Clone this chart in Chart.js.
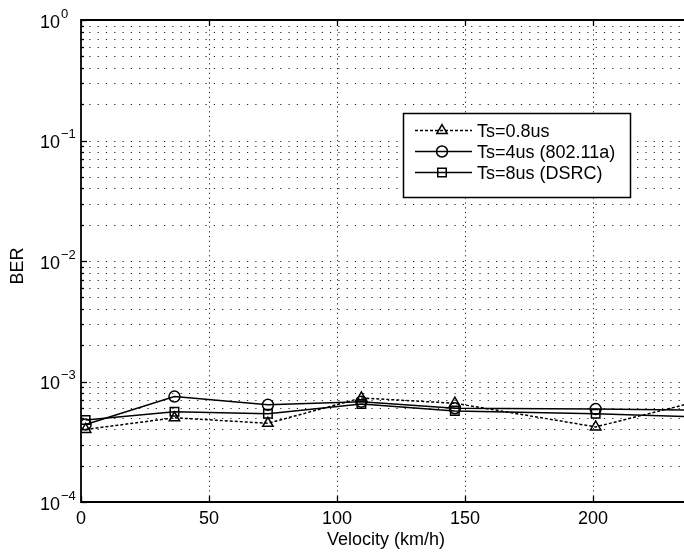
<!DOCTYPE html>
<html>
<head>
<meta charset="utf-8">
<script src="https://cdn.jsdelivr.net/npm/chart.js@4"></script>
<style>
  html, body { margin: 0; padding: 0; background: #fff; }
  #wrap { width: 684px; height: 556px; position: relative; }
</style>
</head>
<body>
<div id="wrap"><canvas id="c" width="684" height="556"></canvas></div>
<script>
// Bit error rate versus vehicle velocity for three OFDM symbol durations
const velocity = [1.8, 36.5, 73, 109.5, 146, 201, 238];
const berTs08 = [4.0e-4, 5.0e-4, 4.5e-4, 7.3e-4, 6.6e-4, 4.2e-4, 6.6e-4];
const berTs4  = [4.4e-4, 7.5e-4, 6.4e-4, 6.8e-4, 6.0e-4, 5.9e-4, 5.8e-4];
const berTs8  = [4.8e-4, 5.6e-4, 5.4e-4, 6.5e-4, 5.7e-4, 5.4e-4, 5.1e-4];
const seriesNames = ['Ts=0.8us', 'Ts=4us (802.11a)', 'Ts=8us (DSRC)'];
const xTicks = [0, 50, 100, 150, 200];
const yDecades = [-4, -3, -2, -1, 0];

const FONT = '"Liberation Sans", Arial, Helvetica, sans-serif';
const LINE_W = 1.5;

function toPoints(ys) {
  return velocity.map((v, i) => ({ x: v, y: ys[i] }));
}

const styles = [
  { pointStyle: 'triangle', radius: 6, dash: [3, 2] },
  { pointStyle: 'circle', radius: 5.5, dash: [] },
  { pointStyle: 'rect', radius: 6, dash: [] }
];

function drawMarker(ctx, style, x, y, r) {
  ctx.beginPath();
  if (style === 'circle') {
    ctx.arc(x, y, r, 0, Math.PI * 2);
  } else if (style === 'rect') {
    const s = r * Math.SQRT1_2;
    ctx.rect(x - s, y - s, 2 * s, 2 * s);
  } else {
    let a = 0;
    ctx.moveTo(x + Math.sin(a) * r, y - Math.cos(a) * r);
    a += 2 * Math.PI / 3;
    ctx.lineTo(x + Math.sin(a) * r, y - Math.cos(a) * r);
    a += 2 * Math.PI / 3;
    ctx.lineTo(x + Math.sin(a) * r, y - Math.cos(a) * r);
    ctx.closePath();
  }
  ctx.stroke();
}

// Dotted grid, drawn beneath the data lines
const gridPlugin = {
  id: 'matlabGrid',
  beforeDatasetsDraw(chart) {
    const { ctx, chartArea: a, scales: { x, y } } = chart;
    ctx.save();
    ctx.strokeStyle = '#222';
    ctx.lineWidth = 1;
    // horizontal lines at every decade and its minor subdivisions
    ctx.setLineDash([1.2, 7.1]);
    yDecades.forEach(d => {
      const mults = d === 0 ? [1] : [1, 2, 3, 4, 5, 6, 7, 8, 9];
      mults.forEach(m => {
        const py = Math.round(y.getPixelForValue(m * Math.pow(10, d))) + 0.5;
        if (py < a.top + 1 || py > a.bottom - 1) return;
        ctx.beginPath();
        ctx.moveTo(a.left, py);
        ctx.lineTo(a.right, py);
        ctx.stroke();
      });
    });
    // vertical lines at the major x ticks
    ctx.setLineDash([1.2, 3.6]);
    xTicks.forEach(t => {
      const px = Math.round(x.getPixelForValue(t)) + 0.5;
      if (px <= a.left + 1) return;
      ctx.beginPath();
      ctx.moveTo(px, a.top);
      ctx.lineTo(px, a.bottom);
      ctx.stroke();
    });
    ctx.restore();
  },
  afterDatasetsDraw(chart) {
    const { ctx, chartArea: a, scales: { x, y } } = chart;
    ctx.save();
    ctx.setLineDash([]);
    ctx.strokeStyle = '#000';
    ctx.lineWidth = 1.8;
    // axes frame (left, bottom, top)
    ctx.beginPath();
    ctx.moveTo(a.right, a.top);
    ctx.lineTo(a.left, a.top);
    ctx.lineTo(a.left, a.bottom);
    ctx.lineTo(a.right, a.bottom);
    ctx.stroke();

    // inward tick marks
    ctx.lineWidth = 1.3;
    xTicks.forEach(t => {
      const px = Math.round(x.getPixelForValue(t)) + 0.5;
      ctx.beginPath();
      ctx.moveTo(px, a.bottom); ctx.lineTo(px, a.bottom - 6);
      ctx.moveTo(px, a.top); ctx.lineTo(px, a.top + 6);
      ctx.stroke();
    });
    yDecades.forEach(d => {
      const mults = d === 0 ? [1] : [1, 2, 3, 4, 5, 6, 7, 8, 9];
      mults.forEach(m => {
        const py = Math.round(y.getPixelForValue(m * Math.pow(10, d))) + 0.5;
        const len = m === 1 ? 6 : 3;
        ctx.beginPath();
        ctx.moveTo(a.left, py); ctx.lineTo(a.left + len, py);
        ctx.stroke();
      });
    });

    ctx.fillStyle = '#000';
    // x tick labels
    ctx.font = '18px ' + FONT;
    ctx.textAlign = 'center';
    ctx.textBaseline = 'alphabetic';
    xTicks.forEach(t => {
      ctx.fillText(String(t), x.getPixelForValue(t), a.bottom + 22);
    });
    // y tick labels as powers of ten
    yDecades.forEach(d => {
      const py = y.getPixelForValue(Math.pow(10, d));
      ctx.textAlign = 'left';
      ctx.font = '18px ' + FONT;
      ctx.fillText('10', 40, py + 7.5);
      const w = ctx.measureText('10').width;
      ctx.font = '13px ' + FONT;
      const exp = d === 0 ? '0' : '\u2212' + String(-d);
      ctx.fillText(exp, 40 + w + 1, py - 2.5);
    });
    // axis titles
    ctx.font = '18px ' + FONT;
    ctx.textAlign = 'center';
    ctx.fillText('Velocity (km/h)', 386, 545);
    ctx.save();
    ctx.translate(23, 266);
    ctx.rotate(-Math.PI / 2);
    ctx.fillText('BER', 0, 0);
    ctx.restore();

    // legend box
    const lx = 403, ly = 113, lw = 227, lh = 84;
    ctx.fillStyle = '#fff';
    ctx.fillRect(lx, ly, lw, lh);
    ctx.lineWidth = 1.5;
    ctx.strokeStyle = '#000';
    ctx.strokeRect(lx + 0.5, ly + 0.5, lw, lh);
    const rows = [130, 151, 172];
    chart.data.datasets.forEach((ds, i) => {
      const ry = rows[i] + 0.5;
      ctx.strokeStyle = '#000';
      ctx.lineWidth = LINE_W;
      ctx.setLineDash(styles[i].dash);
      ctx.beginPath();
      ctx.moveTo(415, ry); ctx.lineTo(472, ry);
      ctx.stroke();
      ctx.setLineDash([]);
      ctx.fillStyle = '#fff';
      drawMarker(ctx, styles[i].pointStyle, 442, ry, styles[i].radius);
      ctx.fillStyle = '#000';
      ctx.font = '18px ' + FONT;
      ctx.textAlign = 'left';
      ctx.fillText(seriesNames[i], 477, rows[i] + 6.5);
    });
    ctx.restore();
  }
};

const seriesData = [berTs08, berTs4, berTs8];

new Chart(document.getElementById('c'), {
  type: 'line',
  data: {
    datasets: seriesData.map((ys, i) => ({
      label: seriesNames[i],
      data: toPoints(ys),
      borderColor: '#000',
      borderWidth: LINE_W,
      borderDash: styles[i].dash,
      backgroundColor: 'rgba(0,0,0,0)',
      pointStyle: styles[i].pointStyle,
      pointRadius: styles[i].radius,
      pointBorderColor: '#000',
      pointBorderWidth: LINE_W,
      pointBackgroundColor: 'rgba(0,0,0,0)',
      tension: 0,
      fill: false
    }))
  },
  options: {
    responsive: false,
    animation: false,
    devicePixelRatio: 1,
    layout: { autoPadding: false, padding: { top: 20, left: 0, right: 0, bottom: 0 } },
    plugins: { legend: { display: false }, tooltip: { enabled: false } },
    scales: {
      x: {
        type: 'linear', min: 0, max: 235.5,
        ticks: { display: false },
        grid: { display: false },
        border: { display: false },
        afterFit(s) { s.height = 54; }
      },
      y: {
        type: 'logarithmic', min: 1e-4, max: 1,
        ticks: { display: false },
        grid: { display: false },
        border: { display: false },
        afterFit(s) { s.width = 81; }
      }
    }
  },
  plugins: [gridPlugin]
});
</script>
</body>
</html>
